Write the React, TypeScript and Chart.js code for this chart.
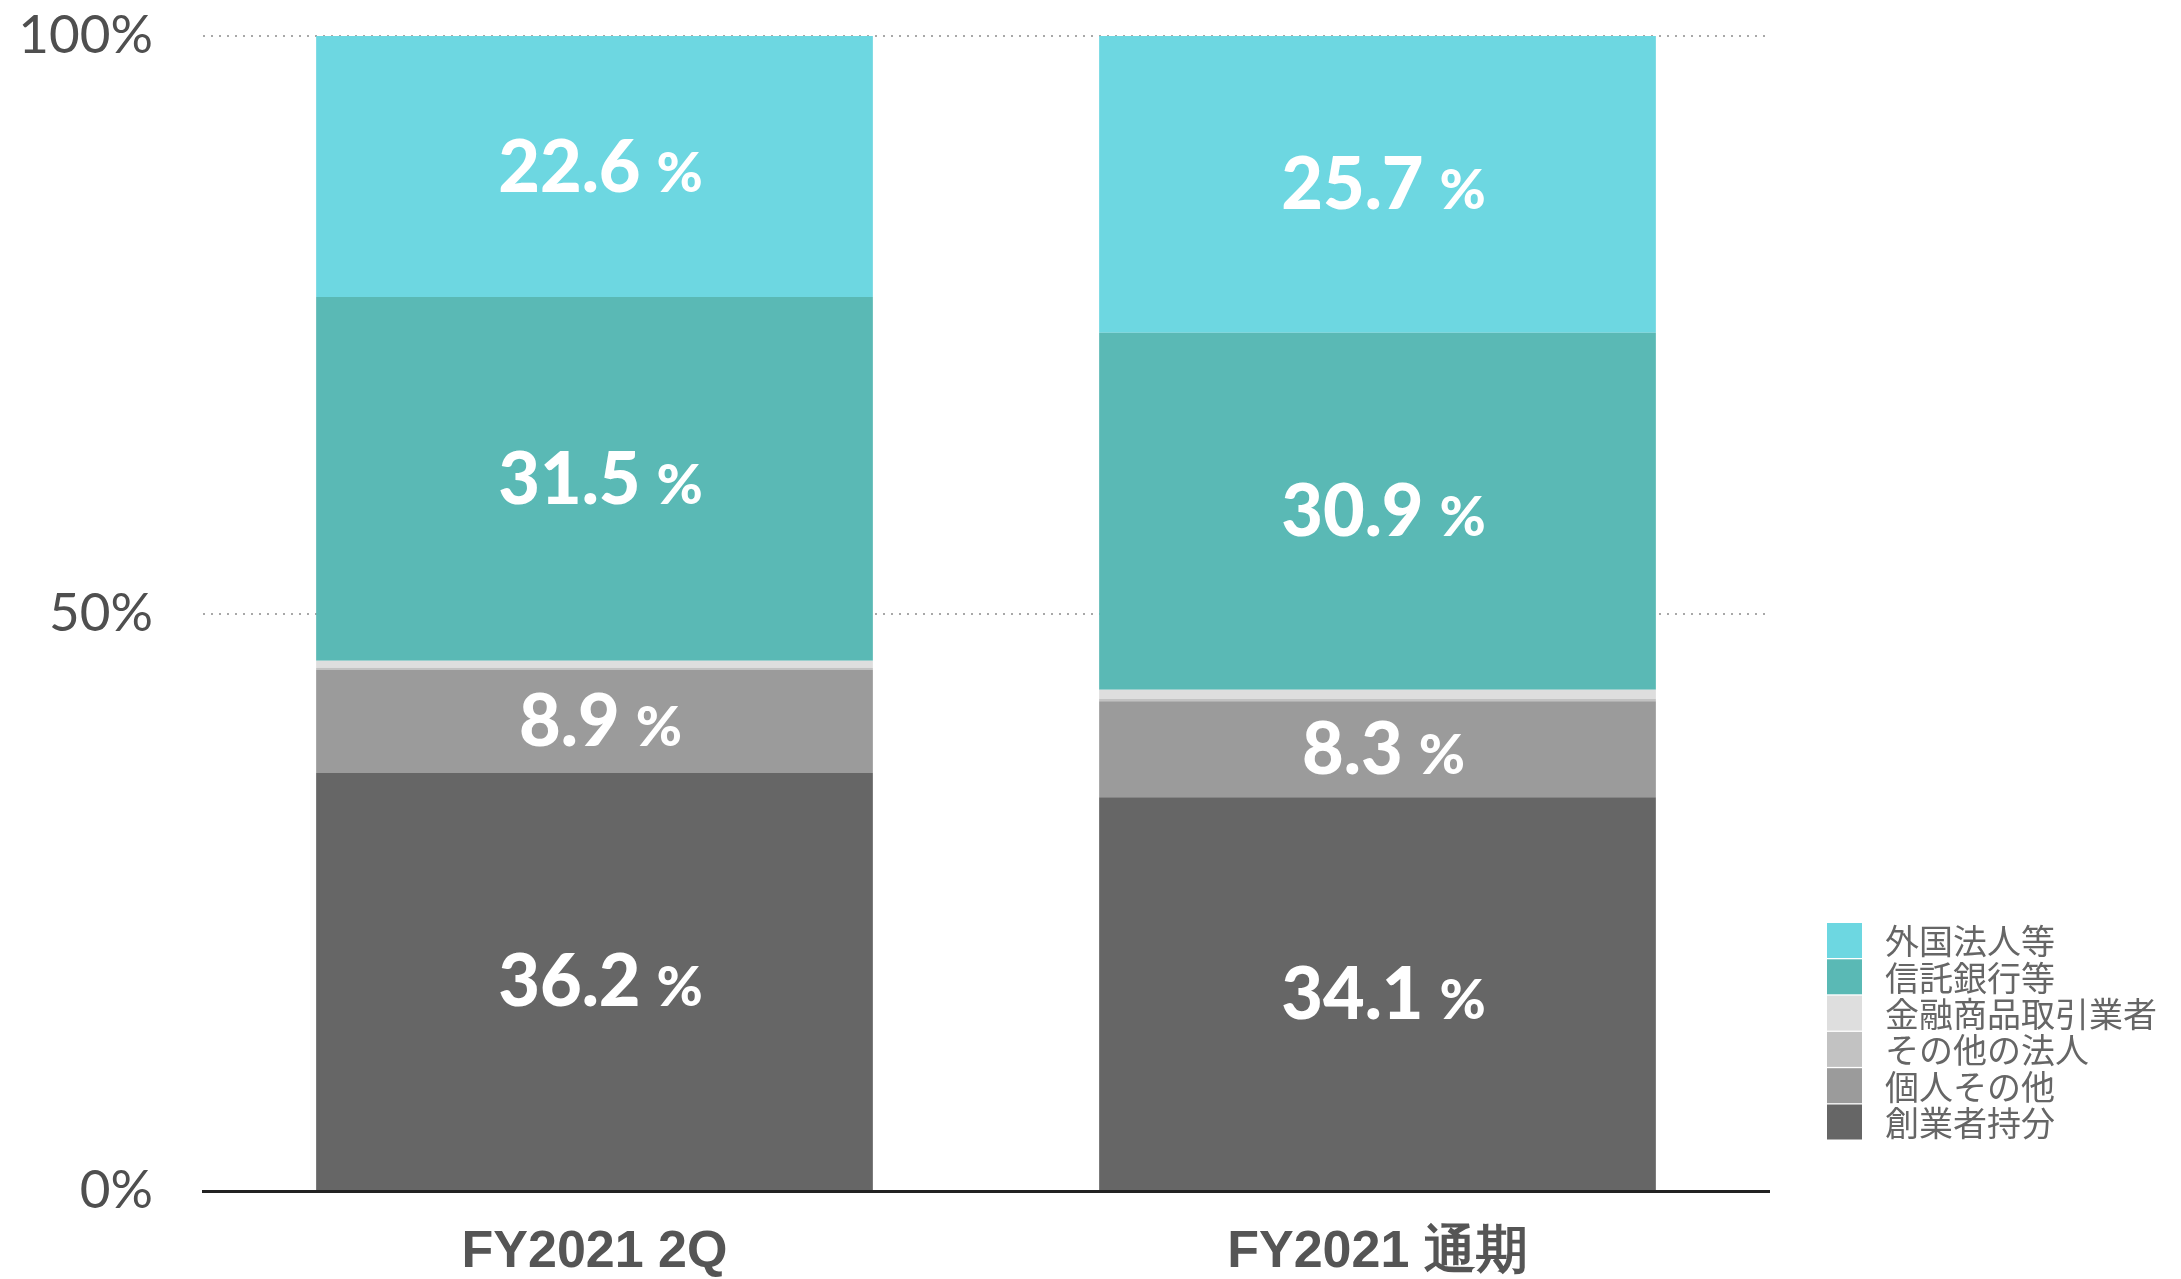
import React, { useEffect, useRef } from "react";
import { Chart, registerables } from "chart.js";

Chart.register(...registerables);

// ---- data ----
const categories = ["FY2021 2Q", "FY2021 通期"];

// stacked bottom -> top
const seriesNames = ["創業者持分", "個人その他", "その他の法人", "金融商品取引業者", "信託銀行等", "外国法人等"];
const founders = [36.2, 34.1];
const individuals = [8.9, 8.3];
const otherCorporations = [0.2, 0.2];
const securitiesFirms = [0.6, 0.8];
const trustBanks = [31.5, 30.9];
const foreignCorporations = [22.6, 25.7];
const seriesValues = [founders, individuals, otherCorporations, securitiesFirms, trustBanks, foreignCorporations];
const seriesColors = ["#666666", "#9b9b9b", "#c2c2c2", "#dedede", "#5ab9b5", "#6dd7e1"];

const yTicks = [0, 50, 100];
const labelThreshold = 5;

const segmentLabelPlugin = {
  id: "segmentLabels",
  afterDatasetsDraw(chart: any) {
    const ctx = chart.ctx;
    ctx.save();
    chart.data.datasets.forEach((ds: any, di: number) => {
      const meta = chart.getDatasetMeta(di);
      meta.data.forEach((el: any, i: number) => {
        const v = ds.data[i];
        if (v < labelThreshold) return;
        const num = v.toFixed(1);
        const numFont = "900 72px Lato";
        const pctFont = "900 56px Lato";
        ctx.font = numFont;
        const wNum = ctx.measureText(num).width;
        ctx.font = pctFont;
        const gap = 16;
        const wPct = ctx.measureText("%").width;
        const total = wNum + gap + wPct;
        const cx = el.x + 6;
        const cy = (el.y + el.base) / 2;
        const baseline = cy + 25;
        let x = cx - total / 2;
        ctx.fillStyle = "#ffffff";
        ctx.textAlign = "left";
        ctx.textBaseline = "alphabetic";
        ctx.font = numFont;
        ctx.fillText(num, x, baseline);
        x += wNum + gap;
        ctx.font = pctFont;
        ctx.fillText("%", x, baseline);
      });
    });
    ctx.restore();
  },
};

const customLegendPlugin = {
  id: "customLegend",
  afterDraw(chart: any) {
    const ctx = chart.ctx;
    const area = chart.chartArea;
    const boxX = area.right + 58;
    const boxW = 35;
    const boxH = 35;
    const pitch = 36.3;
    const top = 923;
    const n = chart.data.datasets.length;
    ctx.save();
    for (let k = 0; k < n; k++) {
      const di = n - 1 - k;
      const ds = chart.data.datasets[di];
      const y = top + k * pitch;
      ctx.fillStyle = ds.backgroundColor;
      ctx.fillRect(boxX, y, boxW, boxH);
      ctx.fillStyle = "#666666";
      ctx.font = "34px 'Noto Sans CJK JP'";
      ctx.textAlign = "left";
      ctx.textBaseline = "middle";
      ctx.fillText(ds.label, boxX + 58, y + boxH / 2 + 1);
    }
    ctx.restore();
  },
};

export default function App() {
  const canvasRef = useRef<HTMLCanvasElement | null>(null);

  useEffect(() => {
    let chart: Chart | null = null;
    let cancelled = false;
    const fontsReady = (document as any).fonts
      ? Promise.all([
          (document as any).fonts.load("900 72px Lato"),
          (document as any).fonts.load("52px Lato"),
          (document as any).fonts.load("bold 52px 'Liberation Sans'"),
          (document as any).fonts.load("34px 'Noto Sans CJK JP'", "外国法人等"),
        ]).catch(() => null)
      : Promise.resolve(null);

    fontsReady.then(() => {
      if (cancelled || !canvasRef.current) return;
      chart = new Chart(canvasRef.current, {
        type: "bar",
        data: {
          labels: categories,
          datasets: seriesNames.map((name, i) => ({
            label: name,
            data: seriesValues[i],
            backgroundColor: seriesColors[i],
            borderWidth: 0,
            barPercentage: 0.711,
            categoryPercentage: 1,
          })),
        },
        options: {
          animation: false,
          responsive: true,
          maintainAspectRatio: false,
          layout: { padding: { top: 36, right: 412, bottom: 0, left: 0 } },
          plugins: {
            legend: { display: false },
            tooltip: { enabled: false },
          },
          scales: {
            x: {
              stacked: true,
              grid: { display: false, drawTicks: false },
              border: { display: true, color: "#222222", width: 3 },
              ticks: {
                color: "#555555",
                font: { family: "'Liberation Sans', Arial, sans-serif", weight: "bold", size: 52 },
                padding: 30,
              },
              afterFit: (s: any) => {
                s.height = 88;
                s.paddingLeft = 0;
                s.paddingRight = 0;
              },
            },
            y: {
              stacked: true,
              min: 0,
              max: 100,
              afterBuildTicks: (s: any) => {
                s.ticks = yTicks.map((v) => ({ value: v }));
              },
              grid: {
                drawTicks: false,
                color: (c: any) => (c.tick && c.tick.value === 0 ? "rgba(0,0,0,0)" : "#a8a8a8"),
                lineWidth: 2,
              },
              border: { display: false, dash: [2, 6] },
              ticks: {
                color: "#4f4f4f",
                font: { family: "Lato, sans-serif", size: 53 },
                padding: 50,
                callback: (v: any) => v + "%",
              },
              afterFit: (s: any) => {
                s.width = 203;
                s.paddingTop = 0;
                s.paddingBottom = 0;
              },
            },
          },
        },
        plugins: [segmentLabelPlugin, customLegendPlugin],
      } as any);
    });

    return () => {
      cancelled = true;
      if (chart) chart.destroy();
    };
  }, []);

  return (
    <div style={{ position: "fixed", left: 0, top: 0, width: "2181px", height: "1279px", background: "#ffffff" }}>
      <canvas ref={canvasRef} />
    </div>
  );
}
